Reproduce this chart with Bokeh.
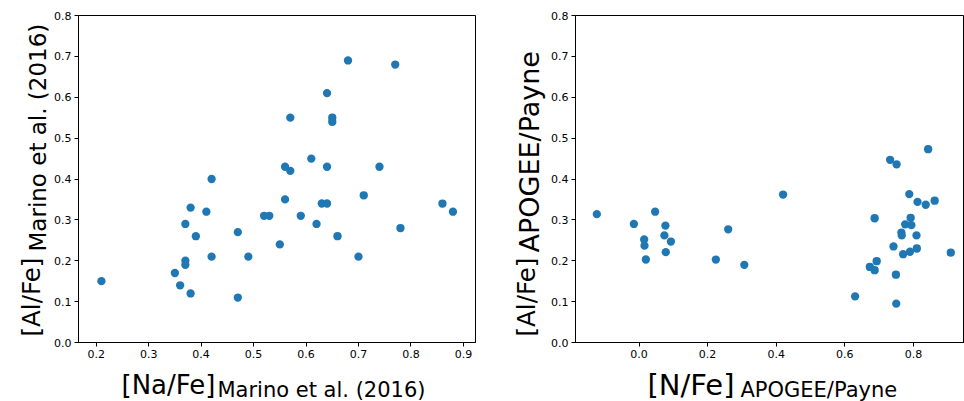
import math
from bokeh.plotting import figure
from bokeh.layouts import row, column
from bokeh.models import Range1d, FixedTicker, Label
from bokeh.embed import file_html
from bokeh.resources import INLINE

# ---- data: left panel (Marino et al. 2016) ----
na_fe = [0.68, 0.77, 0.64, 0.57, 0.65, 0.65, 0.61, 0.56, 0.57, 0.64,
         0.74, 0.42, 0.71, 0.38, 0.41, 0.56, 0.63, 0.64, 0.86, 0.88,
         0.52, 0.53, 0.59, 0.37, 0.62, 0.78, 0.47, 0.39, 0.66, 0.55,
         0.42, 0.49, 0.70, 0.37, 0.37, 0.21, 0.35, 0.36, 0.38, 0.47]
al_fe_marino = [0.69, 0.68, 0.61, 0.55, 0.55, 0.54, 0.45, 0.43, 0.42, 0.43,
                0.43, 0.40, 0.36, 0.33, 0.32, 0.35, 0.34, 0.34, 0.34, 0.32,
                0.31, 0.31, 0.31, 0.29, 0.29, 0.28, 0.27, 0.26, 0.26, 0.24,
                0.21, 0.21, 0.21, 0.20, 0.19, 0.15, 0.17, 0.14, 0.12, 0.11]

# ---- data: right panel (APOGEE/Payne) ----
n_fe = [0.732, 0.751, 0.843, -0.123, -0.015, 0.015, 0.016, 0.020, 0.047, 0.077,
        0.074, 0.093, 0.078, 0.224, 0.260, 0.307, 0.420, 0.630, 0.687, 0.673,
        0.687, 0.693, 0.742, 0.749, 0.750, 0.765, 0.766, 0.770, 0.776, 0.788,
        0.792, 0.794, 0.790, 0.809, 0.810, 0.812, 0.836, 0.862, 0.909]
al_fe_apogee = [0.447, 0.436, 0.473, 0.314, 0.290, 0.252, 0.237, 0.203, 0.320, 0.286,
                0.262, 0.247, 0.221, 0.203, 0.277, 0.190, 0.362, 0.113, 0.304, 0.185,
                0.177, 0.199, 0.235, 0.166, 0.095, 0.269, 0.262, 0.216, 0.289, 0.363,
                0.305, 0.287, 0.222, 0.262, 0.230, 0.344, 0.337, 0.347, 0.220]

# ---- ticks ----
y_ticks = [0.0, 0.1, 0.2, 0.3, 0.4, 0.5, 0.6, 0.7, 0.8]
y_tick_labels = ["0.0", "0.1", "0.2", "0.3", "0.4", "0.5", "0.6", "0.7", "0.8"]
left_x_ticks = [0.2, 0.3, 0.4, 0.5, 0.6, 0.7, 0.8, 0.9]
left_x_tick_labels = ["0.2", "0.3", "0.4", "0.5", "0.6", "0.7", "0.8", "0.9"]
right_x_ticks = [0.0, 0.2, 0.4, 0.6, 0.8]
right_x_tick_labels = ["0.0", "0.2", "0.4", "0.6", "0.8"]

# ---- axis labels (main text, subscript) ----
left_xlabel = ("[Na/Fe]", "Marino et al. (2016)")
left_ylabel = ("[Al/Fe]", "Marino et al. (2016)")
right_xlabel = ("[N/Fe]", "APOGEE/Payne")
right_ylabel = ("[Al/Fe]", "APOGEE/Payne")

FONT = "DejaVu Sans"
DOT = "#1f77b4"
MAIN_H = 363
XLAB_H = 401 - MAIN_H


def make_fig(xr, xticks, xlabels, border_left, border_right, width):
    p = figure(width=width, height=MAIN_H, output_backend="svg", toolbar_location=None,
               x_range=Range1d(*xr), y_range=Range1d(0.0, 0.8),
               min_border_left=border_left, min_border_right=border_right,
               min_border_top=15, min_border_bottom=MAIN_H - 342)
    p.xgrid.visible = False
    p.ygrid.visible = False
    p.outline_line_color = "black"
    p.outline_line_width = 1
    p.outline_line_alpha = 1
    p.background_fill_color = "white"
    p.border_fill_color = "white"
    for ax, ticks, labels in ((p.xaxis[0], xticks, xlabels), (p.yaxis[0], y_ticks, y_tick_labels)):
        ax.ticker = FixedTicker(ticks=ticks)
        ax.major_label_overrides = {t: l for t, l in zip(ticks, labels)}
        ax.minor_tick_line_color = None
        ax.major_tick_out = 4
        ax.major_tick_in = 0
        ax.major_label_standoff = 3
        ax.major_label_text_font = FONT
        ax.major_label_text_font_size = "11px"
        ax.major_label_text_color = "black"
        ax.axis_line_color = "black"
        ax.major_tick_line_color = "black"
    return p


def text_panel(width, height):
    t = figure(width=width, height=height, output_backend="svg", toolbar_location=None,
               x_range=Range1d(0, width), y_range=Range1d(0, height),
               x_axis_type=None, y_axis_type=None,
               min_border_left=0, min_border_right=0, min_border_top=0, min_border_bottom=0)
    t.xgrid.visible = False
    t.ygrid.visible = False
    t.outline_line_color = None
    t.background_fill_color = "white"
    t.border_fill_color = "white"
    return t


def add_label(p, txt, x, y, size, angle=0.0, baseline="alphabetic"):
    p.add_layout(Label(x=x, y=y, x_units="screen", y_units="screen", text=txt,
                       angle=angle, text_font=FONT, text_font_size=size,
                       text_color="black", text_baseline=baseline, text_align="left"))


UP = math.pi / 2

# ---- left panel ----
p1 = make_fig((0.1663, 0.9230), left_x_ticks, left_x_tick_labels, 28, 7, 432)
p1.scatter(na_fe, al_fe_marino, size=8.3, fill_color=DOT, line_color=None)
yl1 = text_panel(50, MAIN_H)
add_label(yl1, left_ylabel[0], 31, 6, "24.5px", UP)
add_label(yl1, left_ylabel[1], 37, 91, "23px", UP)
xl1 = text_panel(482, XLAB_H)
add_label(xl1, left_xlabel[0], 121, 401 - 384, "26px")
add_label(xl1, left_xlabel[1], 217, 401 - 389, "21px")

# ---- right panel ----
p2 = make_fig((-0.1852, 0.9490), right_x_ticks, right_x_tick_labels, 26, 0, 416)
p2.scatter(n_fe, al_fe_apogee, size=8.3, fill_color=DOT, line_color=None)
yl2 = text_panel(66, MAIN_H)
add_label(yl2, right_ylabel[0], 44, 6, "24.5px", UP)
add_label(yl2, right_ylabel[1], 47, 90, "27px", UP)
xl2 = text_panel(482, XLAB_H)
add_label(xl2, right_xlabel[0], 647 - 482, 401 - 384, "29px")
add_label(xl2, right_xlabel[1], 740 - 482, 401 - 389, "21px")

layout = row(column(row(yl1, p1), xl1), column(row(yl2, p2), xl2))
open("out.html", "w").write(file_html(layout, INLINE))
